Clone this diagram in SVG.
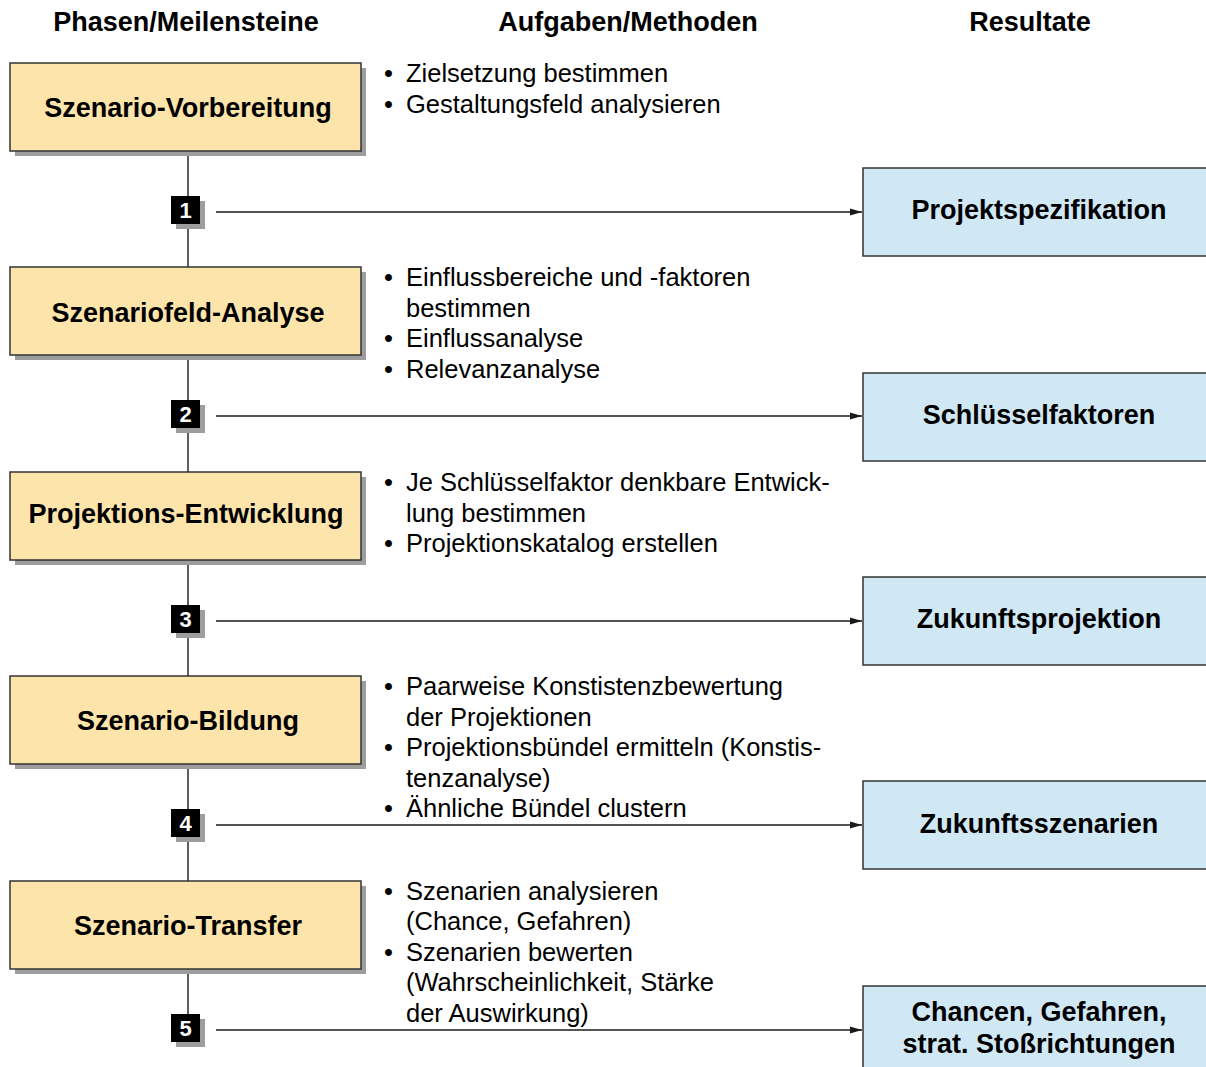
<svg xmlns="http://www.w3.org/2000/svg" width="1206" height="1067" viewBox="0 0 1206 1067">
  <style>
    .head { font-family: "Liberation Sans", Arial, sans-serif; font-weight: bold; font-size: 27px; fill: #000; text-anchor: middle; }
    .phase { fill: #fde4aa; stroke: #333; stroke-width: 1.5; }
    .result { fill: #d0e7f4; stroke: #333; stroke-width: 1.5; }
    .shadow { fill: #9d9d9d; }
    .label { font-family: "Liberation Sans", Arial, sans-serif; font-weight: bold; font-size: 27px; fill: #000; text-anchor: middle; }
    .item { font-family: "Liberation Sans", Arial, sans-serif; font-size: 25.5px; fill: #000; }
    .num { font-family: "Liberation Sans", Arial, sans-serif; font-weight: bold; font-size: 22px; fill: #fff; text-anchor: middle; }
    .conn { stroke: #1a1a1a; stroke-width: 1.4; fill: none; }
  </style>
  <defs>
    <marker id="arrow" markerWidth="13" markerHeight="8" refX="12" refY="4" orient="auto" markerUnits="userSpaceOnUse">
      <path d="M0,0.6 L12,4 L0,7.4 Z" fill="#1a1a1a"/>
    </marker>
  </defs>

  <!-- column headings -->
  <text class="head" x="186" y="31">Phasen/Meilensteine</text>
  <text class="head" x="628" y="31">Aufgaben/Methoden</text>
  <text class="head" x="1030" y="31">Resultate</text>

  <!-- connectors: phase spine and milestone arrows -->
  <g id="connectors">
    <line class="conn" x1="188" y1="151" x2="188" y2="267"/>
    <line class="conn" x1="188" y1="355" x2="188" y2="472"/>
    <line class="conn" x1="188" y1="560" x2="188" y2="676"/>
    <line class="conn" x1="188" y1="764" x2="188" y2="881"/>
    <line class="conn" x1="188" y1="969" x2="188" y2="1014"/>
    <line class="conn" x1="216" y1="212" x2="862" y2="212" marker-end="url(#arrow)"/>
    <line class="conn" x1="216" y1="416" x2="862" y2="416" marker-end="url(#arrow)"/>
    <line class="conn" x1="216" y1="621" x2="862" y2="621" marker-end="url(#arrow)"/>
    <line class="conn" x1="216" y1="825" x2="862" y2="825" marker-end="url(#arrow)"/>
    <line class="conn" x1="216" y1="1030" x2="862" y2="1030" marker-end="url(#arrow)"/>
  </g>

  <!-- phases -->
  <g id="phase-1">
    <rect class="shadow" x="15" y="68" width="351" height="88"/>
    <rect class="phase" x="10" y="63" width="351" height="88"/>
    <text class="label" x="188" y="116.5">Szenario-Vorbereitung</text>
  </g>
  <g id="phase-2">
    <rect class="shadow" x="15" y="272" width="351" height="88"/>
    <rect class="phase" x="10" y="267" width="351" height="88"/>
    <text class="label" x="188" y="321.5">Szenariofeld-Analyse</text>
  </g>
  <g id="phase-3">
    <rect class="shadow" x="15" y="477" width="351" height="88"/>
    <rect class="phase" x="10" y="472" width="351" height="88"/>
    <text class="label" x="186" y="522.5">Projektions-Entwicklung</text>
  </g>
  <g id="phase-4">
    <rect class="shadow" x="15" y="681" width="351" height="88"/>
    <rect class="phase" x="10" y="676" width="351" height="88"/>
    <text class="label" x="188" y="729.5">Szenario-Bildung</text>
  </g>
  <g id="phase-5">
    <rect class="shadow" x="15" y="886" width="351" height="88"/>
    <rect class="phase" x="10" y="881" width="351" height="88"/>
    <text class="label" x="188" y="934.5">Szenario-Transfer</text>
  </g>

  <!-- milestones -->
  <g id="milestone-1">
    <rect class="shadow" x="176" y="201" width="29" height="28"/>
    <rect x="171" y="196" width="29" height="28" fill="#000"/>
    <text class="num" x="185.5" y="218">1</text>
  </g>
  <g id="milestone-2">
    <rect class="shadow" x="176" y="405" width="29" height="28"/>
    <rect x="171" y="400" width="29" height="28" fill="#000"/>
    <text class="num" x="185.5" y="422">2</text>
  </g>
  <g id="milestone-3">
    <rect class="shadow" x="176" y="610" width="29" height="28"/>
    <rect x="171" y="605" width="29" height="28" fill="#000"/>
    <text class="num" x="185.5" y="627">3</text>
  </g>
  <g id="milestone-4">
    <rect class="shadow" x="176" y="814" width="29" height="28"/>
    <rect x="171" y="809" width="29" height="28" fill="#000"/>
    <text class="num" x="185.5" y="831">4</text>
  </g>
  <g id="milestone-5">
    <rect class="shadow" x="176" y="1019" width="29" height="28"/>
    <rect x="171" y="1014" width="29" height="28" fill="#000"/>
    <text class="num" x="185.5" y="1036">5</text>
  </g>

  <!-- tasks / methods -->
  <g id="tasks-1" class="item">
    <text x="384" y="82">•</text><text x="406" y="82">Zielsetzung bestimmen</text>
    <text x="384" y="112.5">•</text><text x="406" y="112.5">Gestaltungsfeld analysieren</text>
  </g>
  <g id="tasks-2" class="item">
    <text x="384" y="286">•</text><text x="406" y="286">Einflussbereiche und -faktoren</text>
    <text x="406" y="316.5">bestimmen</text>
    <text x="384" y="347">•</text><text x="406" y="347">Einflussanalyse</text>
    <text x="384" y="377.5">•</text><text x="406" y="377.5">Relevanzanalyse</text>
  </g>
  <g id="tasks-3" class="item">
    <text x="384" y="491">•</text><text x="406" y="491">Je Schlüsselfaktor denkbare Entwick-</text>
    <text x="406" y="521.5">lung bestimmen</text>
    <text x="384" y="552">•</text><text x="406" y="552">Projektionskatalog erstellen</text>
  </g>
  <g id="tasks-4" class="item">
    <text x="384" y="695">•</text><text x="406" y="695">Paarweise Konstistenzbewertung</text>
    <text x="406" y="725.5">der Projektionen</text>
    <text x="384" y="756">•</text><text x="406" y="756">Projektionsbündel ermitteln (Konstis-</text>
    <text x="406" y="786.5">tenzanalyse)</text>
    <text x="384" y="817">•</text><text x="406" y="817">Ähnliche Bündel clustern</text>
  </g>
  <g id="tasks-5" class="item">
    <text x="384" y="899.5">•</text><text x="406" y="899.5">Szenarien analysieren</text>
    <text x="406" y="930">(Chance, Gefahren)</text>
    <text x="384" y="960.5">•</text><text x="406" y="960.5">Szenarien bewerten</text>
    <text x="406" y="991">(Wahrscheinlichkeit, Stärke</text>
    <text x="406" y="1021.5">der Auswirkung)</text>
  </g>

  <!-- results -->
  <g id="result-1">
    <rect class="result" x="863" y="168" width="360" height="88"/>
    <text class="label" x="1039" y="218.5">Projektspezifikation</text>
  </g>
  <g id="result-2">
    <rect class="result" x="863" y="373" width="360" height="88"/>
    <text class="label" x="1039" y="423.5">Schlüsselfaktoren</text>
  </g>
  <g id="result-3">
    <rect class="result" x="863" y="577" width="360" height="88"/>
    <text class="label" x="1039" y="627.5">Zukunftsprojektion</text>
  </g>
  <g id="result-4">
    <rect class="result" x="863" y="781" width="360" height="88"/>
    <text class="label" x="1039" y="832.5">Zukunftsszenarien</text>
  </g>
  <g id="result-5">
    <rect class="result" x="863" y="986" width="360" height="88"/>
    <text class="label" x="1039" y="1020.5">Chancen, Gefahren,</text>
    <text class="label" x="1039" y="1052.5">strat. Stoßrichtungen</text>
  </g>
</svg>
